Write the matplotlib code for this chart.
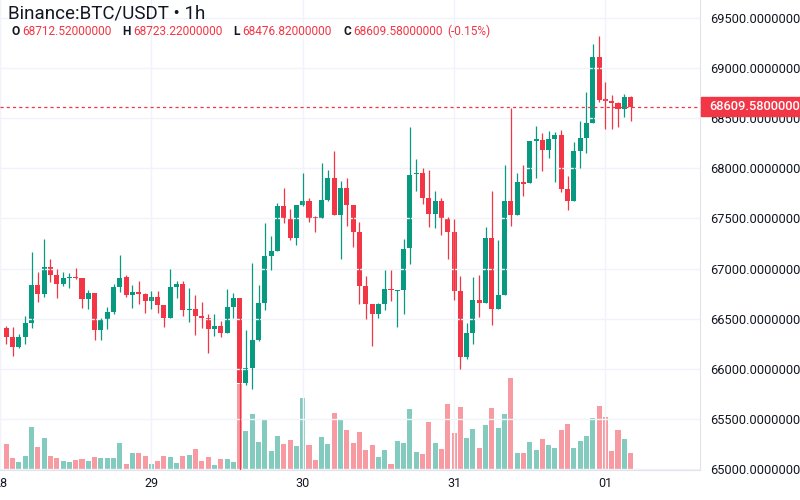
import matplotlib
matplotlib.use('Agg')
import matplotlib.pyplot as plt
from matplotlib.patches import Rectangle
import numpy as np

plt.rcParams['font.family'] = ['Roboto', 'DejaVu Sans']

# hourly candles, 28 01:00 -> 01 04:00
opens = [66410, 66317, 66220, 66320, 66453, 66837, 66743, 67017, 66933, 66850,
         66907, 66918, 66907, 66693, 66753, 66383, 66487, 66570, 66820, 66917,
         66733, 66770, 66743, 66677, 66720, 66637, 66503, 66820, 66850, 66587,
         66597, 66527, 66503, 66393, 66427, 66360, 66617, 66710, 65860, 66010,
         66283, 66653, 67127, 67177, 67620, 67503, 67310, 67633, 67673, 67510,
         67500, 67687, 67903, 67537, 67803, 67630, 67360, 66827, 66650, 66543,
         66643, 66800, 66780, 66790, 67207, 67940, 67950, 67707, 67543, 67677,
         67490, 67367, 66777, 66120, 66355, 66687, 66660, 67303, 66593, 66737,
         67670, 67537, 67860, 67850, 68277, 68287, 68187, 68293, 68337, 67793,
         67677, 68170, 68300, 68457, 69107, 68693, 68677, 68650, 68590, 68712.52]
highs = [66427, 66417, 66343, 66527, 67170, 66970, 67293, 67100, 67000, 66967,
         66960, 67010, 66907, 66787, 66753, 66510, 66620, 66843, 67133, 66933,
         66833, 66877, 66753, 66777, 66777, 66637, 66993, 66877, 66877, 66803,
         66733, 66667, 66543, 66543, 66477, 66800, 66760, 66710, 66387, 67060,
         66837, 67453, 67327, 67653, 67803, 67593, 67633, 67953, 67700, 67520,
         68053, 67987, 68177, 67870, 67903, 67630, 67460, 66923, 66650, 66657,
         66990, 66983, 66790, 67300, 68410, 68090, 68007, 67983, 67777, 67700,
         67517, 67490, 66927, 66460, 66920, 66937, 67417, 67770, 67287, 68037,
         68603, 67953, 68037, 68270, 68420, 68350, 68377, 68360, 68387, 67920,
         68260, 68477, 68757, 69240, 69317, 68857, 68733, 68667, 68743, 68723.22]
lows = [66243, 66127, 66203, 66243, 66410, 66670, 66720, 66867, 66710, 66827,
        66810, 66900, 66603, 66593, 66287, 66283, 66393, 66543, 66767, 66720,
        66603, 66643, 66560, 66600, 66553, 66417, 66503, 66707, 66527, 66467,
        66337, 66410, 66160, 66327, 66320, 66353, 66510, 64700, 65840, 65800,
        66277, 66587, 66987, 67177, 67450, 67287, 67233, 67620, 67467, 67367,
        67500, 67670, 67537, 67100, 67420, 67217, 66643, 66500, 66227, 66510,
        66583, 66677, 66417, 66543, 67043, 67777, 67643, 67410, 67400, 67333,
        67100, 66683, 65995, 66100, 66243, 66520, 66660, 66433, 66593, 66737,
        67420, 67537, 67727, 67850, 67900, 67977, 68100, 67867, 67767, 67587,
        67677, 68007, 68157, 68457, 68667, 68390, 68390, 68410, 68510, 68476.82]
closes = [66317, 66220, 66320, 66453, 66837, 66743, 67017, 66933, 66850, 66907,
          66913, 66907, 66693, 66753, 66383, 66487, 66570, 66820, 66910, 66733,
          66770, 66743, 66677, 66720, 66637, 66503, 66820, 66850, 66587, 66597,
          66527, 66503, 66393, 66427, 66360, 66617, 66710, 65860, 66010, 66283,
          66653, 67127, 67177, 67620, 67503, 67310, 67633, 67673, 67503, 67500,
          67687, 67903, 67537, 67803, 67630, 67360, 66827, 66650, 66543, 66643,
          66800, 66783, 66790, 67200, 67933, 67950, 67707, 67543, 67677, 67490,
          67367, 66777, 66120, 66355, 66687, 66660, 67303, 66593, 66737, 67670,
          67537, 67860, 67843, 68270, 68293, 68187, 68293, 68337, 67793, 67677,
          68170, 68300, 68457, 69107, 68683, 68677, 68650, 68590, 68710, 68609.58]
volume = [26, 12, 8, 14, 43, 23, 32, 14, 12, 9,
          8, 10, 11, 9, 13, 12, 12, 12, 27, 6,
          17, 17, 14, 6, 9, 14, 13, 7, 14, 15,
          21, 9, 13, 5, 11, 11, 8, 86, 39, 56,
          28, 51, 19, 34, 26, 30, 24, 72, 25, 10,
          33, 26, 57, 50, 40, 27, 38, 20, 25, 13,
          20, 6, 29, 27, 61, 18, 16, 48, 27, 21,
          66, 37, 63, 32, 41, 22, 45, 62, 42, 56,
          92, 17, 17, 28, 20, 31, 25, 22, 40, 46,
          22, 29, 34, 52, 64, 53, 19, 40, 31, 17]

day_ticks = [-1, 23, 47, 71, 95]
day_labels = ['28', '29', '30', '31', '01']
price_ticks = [65000, 65500, 66000, 66500, 67000, 67500, 68000, 68500, 69000, 69500]

UP = '#089981'
DOWN = '#F23645'
TEXT = '#131722'
GRID = '#F0F3FA'
BORDER = '#E0E3EB'

W, H = 800, 500
fig = plt.figure(figsize=(8, 5), dpi=100)
ax = fig.add_axes([0, 30 / H, 700 / W, 470 / H])
vol_ax = ax.twinx()
ax.set_zorder(vol_ax.get_zorder() + 1)
ax.patch.set_visible(False)

o = np.array(opens)
c = np.array(closes)
x = np.arange(len(c))
colors = [UP if cc >= oo else DOWN for oo, cc in zip(o, c)]

# volume pane
vol_ax.bar(x, volume, width=0.8, color=colors, alpha=0.5, linewidth=0)
vol_ax.set_ylim(0, max(volume) * 5.1)
vol_ax.set_yticks([])
for s in vol_ax.spines.values():
    s.set_visible(False)

# candles
ax.vlines(x, lows, highs, colors=colors, linewidth=0.9)
body_low = np.minimum(o, c)
body_h = np.maximum(np.abs(c - o), 10)
ax.bar(x, body_h, bottom=body_low, width=0.8, color=colors, linewidth=0)

ax.axhline(c[-1], color=DOWN, linewidth=0.9, linestyle=(0, (2.5, 2.5)))

ax.set_xlim(-0.9, 110.0)
ax.set_ylim(64990, 69680)
ax.set_xticks(day_ticks, day_labels)
ax.yaxis.tick_right()
ax.set_yticks(price_ticks, [f'{v:.7f}' for v in price_ticks])
ax.tick_params(axis='x', length=0, pad=5, labelsize=9, labelcolor=TEXT)
ax.tick_params(axis='y', length=0, pad=7.5, labelsize=9.3, labelcolor=TEXT)
ax.grid(True, color=GRID, linewidth=1)
ax.spines['top'].set_visible(False)
ax.spines['left'].set_visible(False)
ax.spines['right'].set_color(BORDER)
ax.spines['bottom'].set_color(BORDER)

# last price label on the scale
_, ypix = ax.transData.transform((0, c[-1]))
fy = ypix / H
fig.add_artist(Rectangle((701 / W, fy - 9 / H), 99 / W, 19 / H,
                         transform=fig.transFigure, color=DOWN, zorder=5))
fig.text(709 / W, fy + 0.5 / H, f'{c[-1]:.7f}', color='white', fontsize=9.3,
         fontweight='medium', va='center', ha='left', zorder=6)

# header
fig.text(8 / W, 1 - 19 / H, 'Binance:BTC/USDT • 1h', color=TEXT, fontsize=13.5,
         va='baseline')
change = (c[-1] - o[-1]) / o[-1] * 100
header = [('O', 11, opens[-1], 22), ('H', 122, highs[-1], 133),
          ('L', 233, lows[-1], 242), ('C', 343, closes[-1], 353)]
for lab, lx, val, vx in header:
    fig.text(lx / W, 1 - 35 / H, lab, color=TEXT, fontsize=8.6, fontweight='bold',
             va='baseline')
    fig.text(vx / W, 1 - 35 / H, f'{val:.8f}', color=DOWN, fontsize=8.6,
             va='baseline')
fig.text(447 / W, 1 - 35 / H, f'({change:.2f}%)', color=DOWN, fontsize=8.6,
         va='baseline')

fig.savefig('out.png', dpi=100)
